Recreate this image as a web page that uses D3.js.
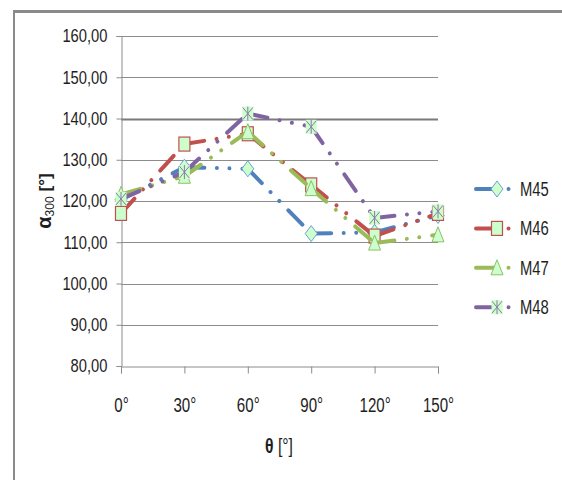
<!DOCTYPE html>
<html>
<head>
<meta charset="utf-8">
<script src="https://cdn.jsdelivr.net/npm/d3@7"></script>
<style>
  body { margin: 0; background: #fff; }
  svg { display: block; }
  text { font-family: "Liberation Sans", Arial, sans-serif; fill: #1e1e1e; }
</style>
</head>
<body>
<svg id="chart" width="562" height="480"></svg>
<script>
// data
const thetas = [0, 30, 60, 90, 120, 150];
const m45 = [120.3, 128.2, 127.8, 112.1, 112.4, 116.5];
const m46 = [117.0, 133.8, 136.3, 123.9, 111.5, 117.0];
const m47 = [121.6, 126.0, 136.8, 123.0, 109.8, 111.8];
const m48 = [120.5, 127.0, 141.2, 138.0, 115.9, 117.5];
const seriesNames = ["M45", "M46", "M47", "M48"];
const yTicks = [80, 90, 100, 110, 120, 130, 140, 150, 160];
const xTicks = [0, 30, 60, 90, 120, 150];

const colors = ["#4F81BD", "#C0504D", "#9BBB59", "#8064A2"];
const markerKinds = ["diamond", "square", "triangle", "star"];
const markerFill = "#ccffcc";
const dash = "20 12.5 0.01 12.5 0.01 13";
const fontFam = "Liberation Sans, Arial, sans-serif";

const svg = d3.select("#chart");

// frame of the chart area (only top and left edge are visible)
svg.append("line").attr("x1", 13).attr("x2", 562).attr("y1", 11.5).attr("y2", 11.5)
  .attr("stroke", "#8a8a8a").attr("stroke-width", 3);
svg.append("line").attr("x1", 14).attr("x2", 14).attr("y1", 10).attr("y2", 480)
  .attr("stroke", "#8a8a8a").attr("stroke-width", 2);

const x = d3.scaleLinear().domain([0, 150]).range([121, 438]);
const y = d3.scaleLinear().domain([80, 160]).range([366, 36]);

const loc = d3.formatLocale({decimal: ",", thousands: ".", grouping: [3], currency: ["", ""]});
const fmt = loc.format(".2f");

// the text in the picture is narrow and tall: squeeze it horizontally
function narrow(sel, k) {
  sel.each(function () {
    const t = d3.select(this);
    const x0 = +t.attr("x") || 0;
    t.attr("x", x0 / k).attr("transform", `scale(${k},1)`);
  });
}

// gridlines
svg.append("g").selectAll("line").data(yTicks.filter(d => d > 80)).join("line")
  .attr("x1", x(0)).attr("x2", x(150))
  .attr("y1", d => Math.round(y(d)) + 0.5).attr("y2", d => Math.round(y(d)) + 0.5)
  .attr("stroke", d => d === 140 ? "#7a7a7a" : "#8c8c8c")
  .attr("stroke-width", d => d === 140 ? 2 : 1);

// y axis
const gy = svg.append("g").attr("transform", `translate(${x(0) + 0.5},0)`)
  .call(d3.axisLeft(y).tickValues(yTicks).tickSize(5).tickPadding(9).tickFormat(fmt));
gy.select(".domain").attr("stroke", "#8c8c8c");
gy.selectAll(".tick line").attr("stroke", "#8c8c8c");
gy.selectAll(".tick text").attr("font-size", 18).attr("fill", "#1e1e1e").attr("font-family", fontFam)
  .call(narrow, 0.82);

// x axis
const gx = svg.append("g").attr("transform", `translate(0,${y(80) + 0.5})`)
  .call(d3.axisBottom(x).tickValues(xTicks).tickSize(7).tickPadding(24).tickFormat(d => d + "°"));
gx.select(".domain").attr("stroke", "#8c8c8c");
gx.selectAll(".tick line").attr("stroke", "#8c8c8c");
gx.selectAll(".tick text").attr("font-size", 21).attr("fill", "#1e1e1e").attr("font-family", fontFam)
  .call(narrow, 0.72);

// axis titles
svg.append("text").attr("x", 279 / 0.75).attr("y", 453).attr("text-anchor", "middle")
  .attr("font-size", 21).attr("transform", "scale(0.75,1)")
  .call(t => {
    t.append("tspan").attr("font-weight", "bold").text("θ");
    t.append("tspan").text(" [°]");
  });

svg.append("text").attr("transform", "translate(51,201) rotate(-90)").attr("text-anchor", "middle")
  .attr("font-size", 17)
  .call(t => {
    t.append("tspan").attr("font-weight", "bold").attr("font-size", 20).text("α");
    t.append("tspan").attr("font-size", 12).attr("dy", 3).text("300");
    t.append("tspan").attr("dy", -3).attr("dx", 5).attr("font-weight", "bold").text("[°]");
  });

function drawMarker(g, kind, color) {
  if (kind === "diamond") {
    g.append("path").attr("d", "M0,-8L6,0L0,8L-6,0Z")
      .attr("fill", markerFill).attr("stroke", "#6f9fd8").attr("stroke-width", 1);
  } else if (kind === "square") {
    g.append("rect").attr("x", -5.5).attr("y", -7).attr("width", 11).attr("height", 14)
      .attr("fill", markerFill).attr("stroke", color).attr("stroke-width", 1.2);
  } else if (kind === "triangle") {
    g.append("path").attr("d", "M0,-8L6,7L-6,7Z")
      .attr("fill", markerFill).attr("stroke", "#8fbf6a").attr("stroke-width", 1);
  } else {
    g.append("rect").attr("x", -5.5).attr("y", -7).attr("width", 11).attr("height", 14)
      .attr("fill", markerFill);
    g.append("path").attr("d", "M-5,-6L5,6M5,-6L-5,6M0,-7L0,7")
      .attr("fill", "none").attr("stroke", "#8a7aa8").attr("stroke-width", 1);
  }
}

const allSeries = [m45, m46, m47, m48];

allSeries.forEach((vals, si) => {
  const pts = thetas.map((t, i) => [x(t), y(vals[i])]);
  const segs = d3.pairs(pts);
  const g = svg.append("g");
  // every segment restarts the dash pattern, as in the picture
  g.selectAll("line").data(segs).join("line")
    .attr("x1", d => d[0][0]).attr("y1", d => d[0][1])
    .attr("x2", d => d[1][0]).attr("y2", d => d[1][1])
    .attr("stroke", colors[si]).attr("stroke-width", 4)
    .attr("stroke-linecap", "round").attr("stroke-dasharray", dash);
  pts.forEach(p => {
    drawMarker(g.append("g").attr("transform", `translate(${p[0]},${p[1]})`), markerKinds[si], colors[si]);
  });
});

// legend
const leg = svg.append("g");
seriesNames.forEach((name, i) => {
  const ly = 189 + i * 39.4;
  const row = leg.append("g").attr("transform", `translate(476,${ly})`);
  row.append("line").attr("x1", 0).attr("x2", 40).attr("y1", 0).attr("y2", 0)
    .attr("stroke", colors[i]).attr("stroke-width", 4)
    .attr("stroke-linecap", "round").attr("stroke-dasharray", dash);
  drawMarker(row.append("g").attr("transform", "translate(21,0)"), markerKinds[i], colors[i]);
  row.append("text").attr("x", 44 / 0.76).attr("y", 7).attr("font-size", 19.5)
    .attr("transform", "scale(0.76,1)").text(name);
});
</script>
</body>
</html>
